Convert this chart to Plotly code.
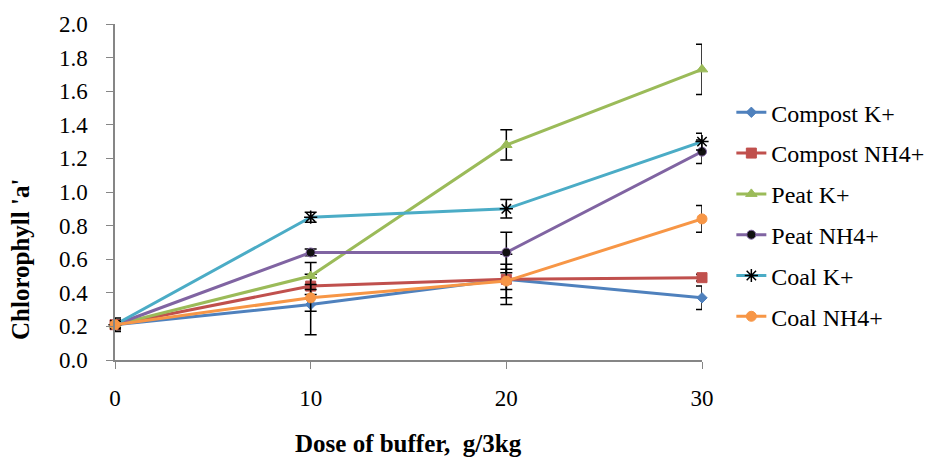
import plotly.graph_objects as go

dose = [0, 10, 20, 30]

series_names = ["Compost K+", "Compost NH4+", "Peat K+", "Peat NH4+", "Coal K+", "Coal NH4+"]

compost_k = [0.21, 0.33, 0.48, 0.37]
compost_nh4 = [0.21, 0.44, 0.48, 0.49]
peat_k = [0.21, 0.50, 1.28, 1.73]
peat_nh4 = [0.21, 0.64, 0.64, 1.24]
coal_k = [0.21, 0.85, 0.90, 1.30]
coal_nh4 = [0.21, 0.37, 0.47, 0.84]

compost_k_err = [0.03, 0.18, 0.15, 0.07]
compost_nh4_err = [0.02, 0.05, 0.06, 0.02]
peat_k_err = [0.02, 0.08, 0.09, 0.15]
peat_nh4_err = [0.02, 0.02, 0.12, 0.07]
coal_k_err = [0.04, 0.03, 0.055, 0.05]
coal_nh4_err = [0.02, 0.08, 0.10, 0.08]

x_title = "Dose of buffer,  g/3kg"
y_title = "Chlorophyll 'a'"

values = [compost_k, compost_nh4, peat_k, peat_nh4, coal_k, coal_nh4]
errors = [compost_k_err, compost_nh4_err, peat_k_err, peat_nh4_err, coal_k_err, coal_nh4_err]

line_colors = ["#4F81BD", "#C0504D", "#9BBB59", "#8064A2", "#4BACC6", "#F79646"]
marker_symbols = ["diamond", "square", "triangle-up", "circle", "asterisk-open", "circle"]
marker_fill = ["#4F81BD", "#C0504D", "#9BBB59", "#111111", "#000000", "#F79646"]
marker_sizes = [8, 10, 10, 9, 11, 10]

FONT = "Liberation Serif"

fig = go.Figure()
for i, name in enumerate(series_names):
    fig.add_trace(go.Scatter(
        x=dose, y=values[i], name=name, mode="lines+markers",
        legendgroup=name,
        line=dict(color=line_colors[i], width=3),
        marker=dict(symbol=marker_symbols[i], size=marker_sizes[i], color=marker_fill[i],
                    line=dict(color=("#000000" if i == 4 else (line_colors[i] if i == 3 else marker_fill[i])),
                              width=(1.5 if i == 4 else 1))),
        error_y=dict(type="data", array=errors[i], visible=True, color="#000000",
                     thickness=1.5, width=6),
        cliponaxis=False,
    ))

fig.update_layout(
    width=933, height=459,
    margin=dict(l=107, r=239, t=16, b=107),
    plot_bgcolor="white", paper_bgcolor="white",
    font=dict(family=FONT, size=23, color="#000000"),
    showlegend=True,
    legend=dict(x=1.05, xanchor="left", y=0.803, yanchor="top",
                font=dict(family=FONT, size=24), tracegroupgap=6.6,
                bgcolor="rgba(0,0,0,0)"),
    xaxis=dict(range=[0, 30], tickvals=dose, ticktext=[str(d) for d in dose],
               showline=True, linecolor="#868686", linewidth=1.5,
               ticks="outside", ticklen=7, tickcolor="#868686",
               tickfont=dict(family=FONT, size=23), automargin=False,
               showgrid=False, zeroline=False, ticklabelstandoff=10),
    yaxis=dict(range=[0, 2.0], dtick=0.2, tickformat=".1f",
               showline=True, linecolor="#868686", linewidth=1.5,
               ticks="outside", ticklen=7, tickcolor="#868686",
               tickfont=dict(family=FONT, size=23), automargin=False,
               showgrid=False, zeroline=False, ticklabelstandoff=14),
    annotations=[
        dict(text="<b>" + x_title + "</b>", xref="paper", yref="paper", x=0.5, y=0,
             xanchor="center", yanchor="middle", yshift=-83, showarrow=False,
             font=dict(family=FONT, size=25)),
        dict(text="<b>" + y_title + "</b>", xref="paper", yref="paper", x=0, y=0.5,
             xanchor="center", yanchor="middle", xshift=-95, yshift=-68, textangle=-90,
             showarrow=False, font=dict(family=FONT, size=25)),
    ],
)

fig.write_html("out.html")
